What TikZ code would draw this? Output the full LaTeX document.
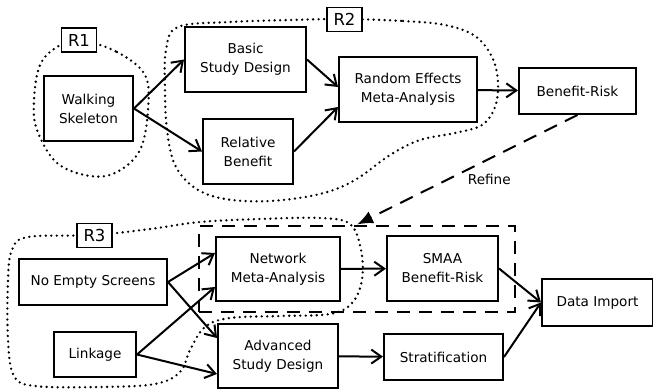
\documentclass[tikz,border=0pt]{standalone}
\usepackage{fontspec}
\setmainfont{DejaVu Sans}
\usepackage{tikz}
\usetikzlibrary{arrows.meta}
\usetikzlibrary{fit}
\tikzset{>={Straight Barb[length=10pt,width=14pt]}}
\tikzset{
  box/.style={draw, line width=2pt, align=center, inner sep=0pt, minimum height=65pt, font=\fontsize{13.6}{19}\selectfont},
  tag/.style={draw, fill=white, line width=1.5pt, inner sep=0pt, minimum width=35pt, minimum height=24pt, font=\fontsize{16.5}{20}\selectfont},
  region/.style={line width=2.6pt, line cap=round, dash pattern=on 0pt off 5.5pt},
  flow/.style={->, line width=2pt},
}

\begin{document}
\begin{tikzpicture}[x=1pt, y=-1pt]
                \useasboundingbox (0, 0) rectangle (653, 389);
                % releases
                \draw[region] plot[smooth cycle, tension=0.6] coordinates {(79, 40) (117, 52) (145, 75) (148, 110) (140, 150) (117, 172) (90, 176) (57, 163) (37, 130) (34, 100) (40, 65) (57, 47)};
                \draw[region] plot[smooth cycle, tension=0.6] coordinates {(344, 19) (403, 21) (445, 25) (475, 36) (492, 57) (498, 82) (495, 107) (482, 125) (455, 133) (420, 140) (390, 155) (355, 180) (320, 194) (270, 201) (225, 199) (195, 188) (175, 165) (167, 130) (165, 90) (166, 50) (178, 27) (230, 22) (290, 20)};
                \draw[region] plot[smooth cycle, tension=0.6] coordinates {(94, 235) (150, 229) (200, 222) (260, 219) (320, 218) (350, 224) (361, 250) (362, 280) (352, 303) (330, 314) (280, 316) (230, 318) (205, 327) (190, 350) (180, 372) (155, 384) (100, 387) (35, 386) (14, 376) (8, 340) (8, 280) (12, 250) (28, 237)};
                \node[tag] (r1) at (79, 40) {R1};
                \node[tag] (r2) at (344.5, 19.5) {R2};
                \node[tag] (r3) at (94.5, 235.5) {R3};
                % first plan
                \node[box, minimum width=89pt] (walking) at (88.5, 108.5) {Walking\\Skeleton};
                \node[box, minimum width=121pt] (basic) at (245.5, 59.5) {Basic\\Study Design};
                \node[box, minimum width=90pt] (relative) at (248, 151.5) {Relative\\Benefit};
                \node[box, minimum width=138pt] (random) at (408, 89.5) {Random Effects\\Meta-Analysis};
                \node[box, minimum width=117pt, minimum height=46pt] (benefit) at (577.5, 91) {Benefit-Risk};
                \draw[flow] (walking.east) -- (basic.west);
                \draw[flow] (walking.east) -- (relative.west);
                \draw[flow] (basic.east) -- ([yshift=2.5pt]random.west);
                \draw[flow] (relative.east) -- ([yshift=-17.5pt]random.west);
                \draw[flow] (random) -- (benefit);
                % refined plan
                \node[box, minimum width=148pt, minimum height=46pt] (empty) at (93, 282) {No Empty Screens};
                \node[box, minimum width=82pt, minimum height=45pt] (linkage) at (95, 354.5) {Linkage};
                \node[box, minimum width=124pt, minimum height=64pt] (network) at (278, 269) {Network\\Meta-Analysis};
                \node[box, minimum width=120pt, minimum height=64pt] (advanced) at (278, 356) {Advanced\\Study Design};
                \node[box, minimum width=111pt] (smaa) at (442.5, 268.5) {SMAA\\Benefit-Risk};
                \node[box, minimum width=119pt, minimum height=46pt] (strat) at (443.5, 357) {Stratification};
                \node[box, minimum width=111pt, minimum height=47pt] (import) at (597.5, 302.5) {Data Import};
                \node[draw, line width=2pt, dash pattern=on 13pt off 9pt, inner xsep=16pt, inner ysep=9.5pt, fit=(network)(smaa)] (refined) {};
                \draw[flow] (empty.east) -- ([yshift=16pt]network.west);
                \draw[flow] (empty.east) -- ([yshift=18pt]advanced.west);
                \draw[flow] (linkage.east) -- ([yshift=-18pt]network.west);
                \draw[flow] (linkage.east) -- ([yshift=-18pt]advanced.west);
                \draw[flow] (network) -- (smaa);
                \draw[flow] (advanced) -- (strat);
                \draw[flow] (smaa.east) -- (import.west);
                \draw[flow] (strat.east) -- (import.west);
                \draw[-{Latex[length=16pt,width=13pt]}, line width=2pt, dash pattern=on 14pt off 9pt] (benefit.south) -- (refined.north) node[pos=0.4, yshift=-21pt, font=\fontsize{13.6}{19}\selectfont] {Refine};
            \end{tikzpicture}
\end{document}
